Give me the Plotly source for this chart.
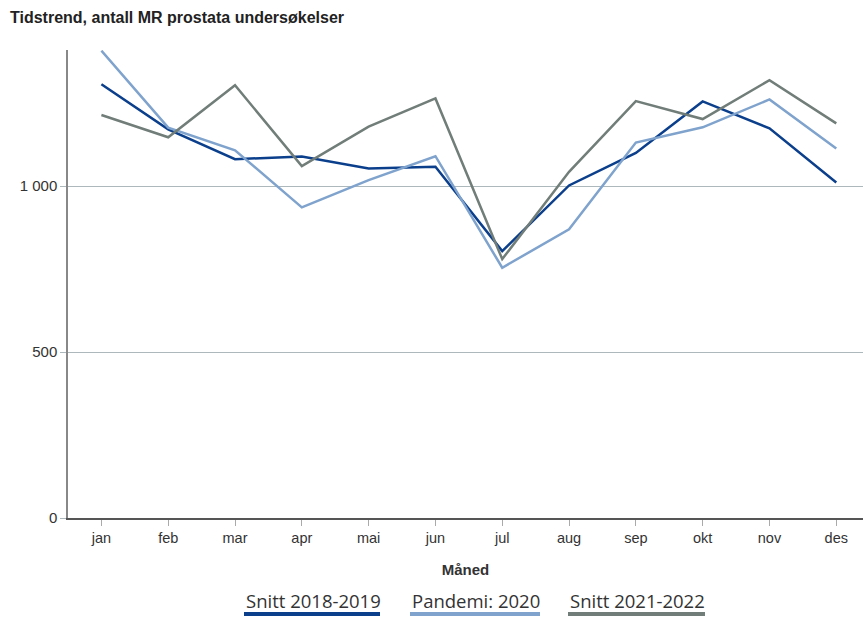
import plotly.graph_objects as go

months = ["jan", "feb", "mar", "apr", "mai", "jun", "jul", "aug", "sep", "okt", "nov", "des"]

snitt_2018_2019 = [1307, 1171, 1081, 1089, 1053, 1058, 804, 1002, 1100, 1255, 1174, 1011]
pandemi_2020 = [1408, 1176, 1108, 936, 1018, 1090, 754, 870, 1131, 1177, 1261, 1113]
snitt_2021_2022 = [1214, 1147, 1304, 1060, 1179, 1264, 780, 1043, 1256, 1202, 1319, 1189]

y_ticks = [0, 500, 1000]
y_tick_labels = ["0", "500", "1 000"]

series = [
    ("Snitt 2018-2019", snitt_2018_2019, "#0b3f8c"),
    ("Pandemi: 2020", pandemi_2020, "#7fa3cd"),
    ("Snitt 2021-2022", snitt_2021_2022, "#717d78"),
]

fig = go.Figure()
for name, vals, color in series:
    fig.add_trace(go.Scatter(
        x=list(range(len(months))), y=vals, name=name, mode="lines",
        line=dict(color=color, width=2.5), showlegend=False,
    ))

# Legend drawn as labels with a coloured bar underneath
legend_pos = [(244, 380), (410, 540), (568, 705)]
W, H = 863, 617
for (name, _, color), (x0, x1) in zip(series, legend_pos):
    fig.add_annotation(
        text=name, xref="paper", yref="paper",
        x=(x0 - 68) / (W - 68), y=(518 - 600) / (518 - 50),
        xanchor="left", yanchor="middle", showarrow=False,
        font=dict(family="Open Sans", size=18.5, color="#333333"),
    )
    fig.add_shape(
        type="line", xref="paper", yref="paper",
        x0=(x0 - 68) / (W - 68), x1=(x1 - 68) / (W - 68),
        y0=(518 - 614) / (518 - 50), y1=(518 - 614) / (518 - 50),
        line=dict(color=color, width=4),
    )

fig.update_layout(
    width=W, height=H,
    margin=dict(l=68, r=0, t=50, b=99),
    paper_bgcolor="white", plot_bgcolor="white",
    font=dict(family="Liberation Sans, Arial", size=14, color="#333333"),
    title=dict(
        text="<b>Tidstrend, antall MR prostata undersøkelser</b>",
        x=10 / W, xanchor="left", y=1 - 17 / H, yanchor="middle",
        font=dict(family="Liberation Sans, Arial", size=16, color="#222222"),
    ),
    xaxis=dict(
        tickmode="array", tickvals=list(range(len(months))), ticktext=months,
        range=[-0.5, 11.4], showgrid=False, zeroline=False,
        showline=True, linecolor="#555555", linewidth=1.5,
        ticks="outside", ticklen=6, tickcolor="#aaaaaa",
        tickfont=dict(size=14.5, color="#333333"),
        title=dict(text="<b>Måned</b>", standoff=19,
                   font=dict(size=15, color="#333333")),
    ),
    yaxis=dict(
        range=[0, 1410], tickmode="array", tickvals=y_ticks, ticktext=y_tick_labels,
        showgrid=True, gridcolor="#adb8bd", gridwidth=1,
        zeroline=False, showline=True, linecolor="#888888", linewidth=1.5,
        ticks="outside", ticklen=6, tickcolor="#adb8bd",
        tickfont=dict(size=15, color="#333333"),
    ),
)

fig.write_html("out.html")
